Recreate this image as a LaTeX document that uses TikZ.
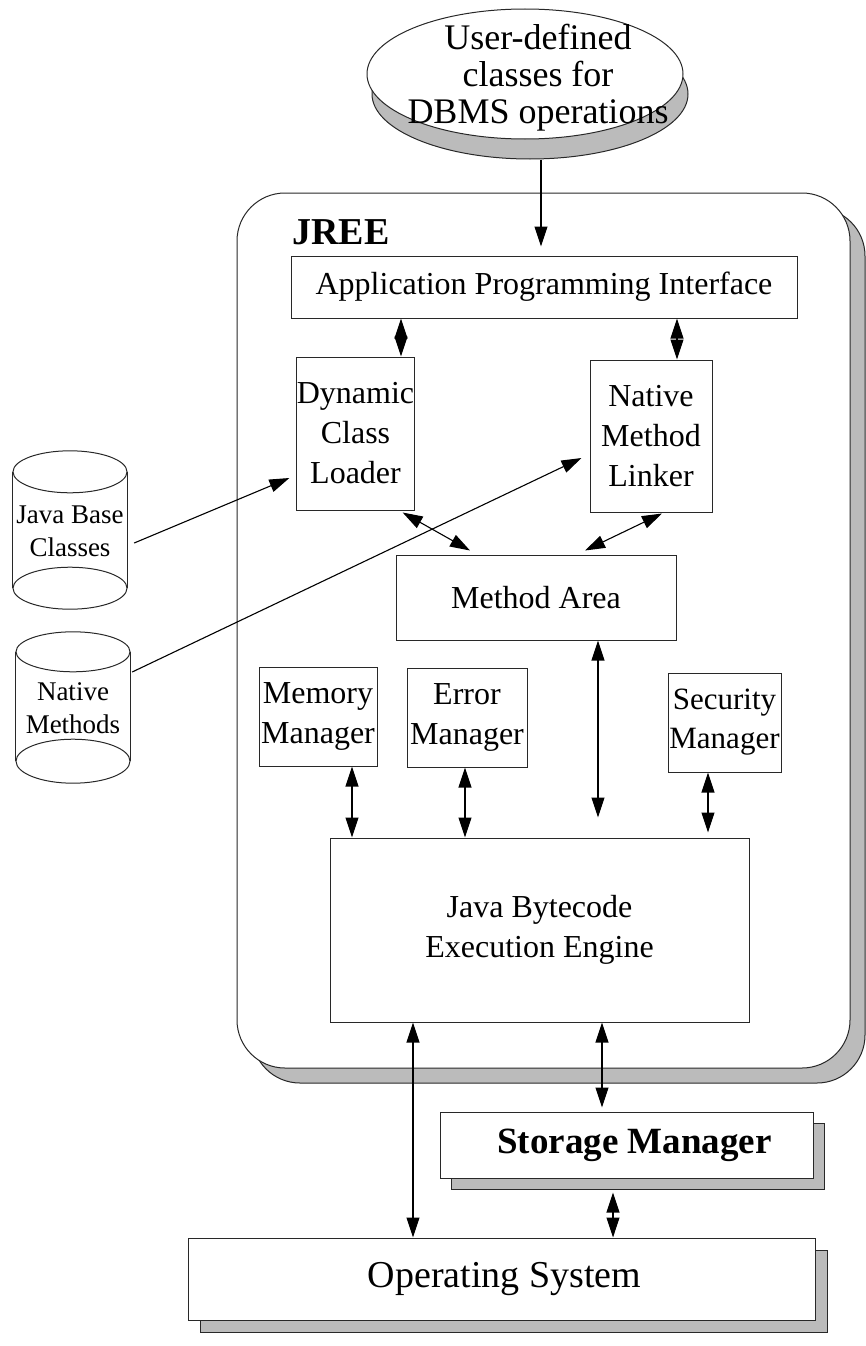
\documentclass[tikz,border=0pt]{standalone}
\usepackage{fontspec}
\setmainfont{Liberation Serif}
\usetikzlibrary{arrows.meta,shadows,shapes.geometric}
\definecolor{shgray}{RGB}{187,187,187}
\definecolor{edge}{RGB}{40,40,40}
\tikzset{
  tip/.tip={Triangle[length=20pt,width=13pt]},
  box/.style={draw=edge, line width=1pt, fill=white, inner sep=0pt, align=center,
              font=\fontsize{32}{40}\selectfont},
  shd/.style={general shadow={shadow xshift=#1, shadow yshift=-#1, fill=shgray,
              draw=edge, line width=1pt}},
  link/.style={line width=1.1pt, tip-tip},
  feed/.style={line width=1.1pt, -tip},
  drum/.style={inner sep=0pt},
  drumtext/.style={align=center, font=\fontsize{27}{33}\selectfont},
  drumline/.style={draw=edge, line width=1pt}
}
\begin{document}
\begin{tikzpicture}[x=1pt,y=-1pt]
\useasboundingbox (0,0) rectangle (865,1346);

% user classes on top
\node[ellipse, draw=edge, line width=1pt, fill=white, inner sep=0pt,
      minimum width=316pt, minimum height=130pt,
      general shadow={shadow xshift=5pt, shadow yshift=-20pt, fill=shgray, draw=edge, line width=1pt}]
      (usr) at (525,74) {};
\node[align=center, font=\fontsize{36}{37}\selectfont] at ([xshift=13pt,yshift=-4pt]usr.center)
      {User-defined\\classes for\\DBMS operations};

% runtime environment container
\node[draw=edge, line width=1pt, fill=white, rounded corners=48pt, inner sep=0pt,
      minimum width=613pt, minimum height=875pt, shd=15pt] (jree) at (543.5,630.5) {};
\node[font=\fontsize{38}{44}\selectfont\bfseries, anchor=west] at (289,232) {JREE};

% components inside the container
\node[box, minimum width=506pt, minimum height=62pt] (api) at (544,287) {Application Programming Interface};
\node[box, minimum width=117pt, minimum height=153pt] (dcl) at (355.5,433.5) {Dynamic\\Class\\Loader};
\node[box, minimum width=122pt, minimum height=152pt] (nml) at (651,436) {Native\\Method\\Linker};
\node[box, minimum width=280pt, minimum height=85pt] (ma) at (536,597.5) {Method Area};
\node[box, minimum width=118pt, minimum height=99pt] (mem) at (318,716.5) {Memory\\Manager};
\node[box, minimum width=120pt, minimum height=99pt] (err) at (467,717.5) {Error\\Manager};
\node[box, minimum width=113pt, minimum height=99pt, font=\fontsize{31}{39}\selectfont] (sec) at (724.5,722.5) {Security\\Manager};
\node[box, minimum width=419pt, minimum height=184pt] (eng) at (539.5,930) {Java Bytecode\\Execution Engine};

% layers below
\node[box, minimum width=373pt, minimum height=66pt, shd=11pt,
      font=\fontsize{37}{42}\selectfont\bfseries] (sto) at (626.5,1145) {\hspace*{16pt}Storage Manager};
\node[box, minimum width=627pt, minimum height=82pt, shd=12pt,
      font=\fontsize{38}{44}\selectfont] (os) at (501.5,1279) {\hspace*{6pt}Operating System};

% class stores on the left
\node[drum, minimum width=114pt, minimum height=116pt] (jbc) at (70,530) {};
\draw[drumline] (jbc.north west) -- (jbc.south west) (jbc.north east) -- (jbc.south east);
\draw[drumline] (jbc.north) ellipse [x radius=57, y radius=21];
\draw[drumline] (jbc.south) ellipse [x radius=57, y radius=21];
\node[drumtext] at ([yshift=-1pt]jbc.center) {Java Base\\Classes};

\node[drum, minimum width=114pt, minimum height=109pt] (nat) at (73,706.5) {};
\draw[drumline] (nat.north west) -- (nat.south west) (nat.north east) -- (nat.south east);
\draw[drumline] (nat.north) ellipse [x radius=57, y radius=20];
\draw[drumline] (nat.south) ellipse [x radius=57, y radius=22];
\node[drumtext] at ([yshift=-2pt]nat.center) {Native\\Methods};

% connectors
\draw[feed] ([xshift=16pt,yshift=-20pt]usr.south) -- ([xshift=-3pt,yshift=9pt]api.north);
\draw[link] ([xshift=-143pt]api.south) -- ([xshift=45.5pt]dcl.north);
\draw[link] ([xshift=133pt]api.south) -- ([xshift=26pt]nml.north);
\draw[link] ([xshift=-12pt,yshift=-2pt]dcl.south east) -- ([xshift=-66pt,yshift=4pt]ma.north);
\draw[link] ([xshift=11pt,yshift=-1pt]nml.south) -- ([xshift=49pt,yshift=4pt]ma.north);
\draw[link] ([xshift=62pt]ma.south) -- ([xshift=58.5pt,yshift=20pt]eng.north);
\draw[link] ([xshift=34pt]mem.south) -- ([xshift=-187.5pt]eng.north);
\draw[link] ([xshift=-2pt]err.south) -- ([xshift=-74.5pt]eng.north);
\draw[link] ([xshift=-16.5pt]sec.south) -- ([xshift=168.5pt,yshift=5pt]eng.north);
\draw[feed] ([xshift=7pt,yshift=-13pt]jbc.east) -- ([xshift=-7pt,yshift=-44.5pt]dcl.west);
\draw[feed] ([xshift=2pt,yshift=34.5pt]nat.east) -- ([xshift=-8pt,yshift=-22pt]nml.west);
\draw[link] ([xshift=-126.5pt]eng.south) -- ([xshift=-88.5pt]os.north);
\draw[link] ([xshift=62.5pt]eng.south) -- ([xshift=-24.5pt,yshift=4pt]sto.north);
\draw[link] ([xshift=-13.5pt,yshift=-14pt]sto.south) -- ([xshift=111.5pt]os.north);
\end{tikzpicture}
\end{document}
